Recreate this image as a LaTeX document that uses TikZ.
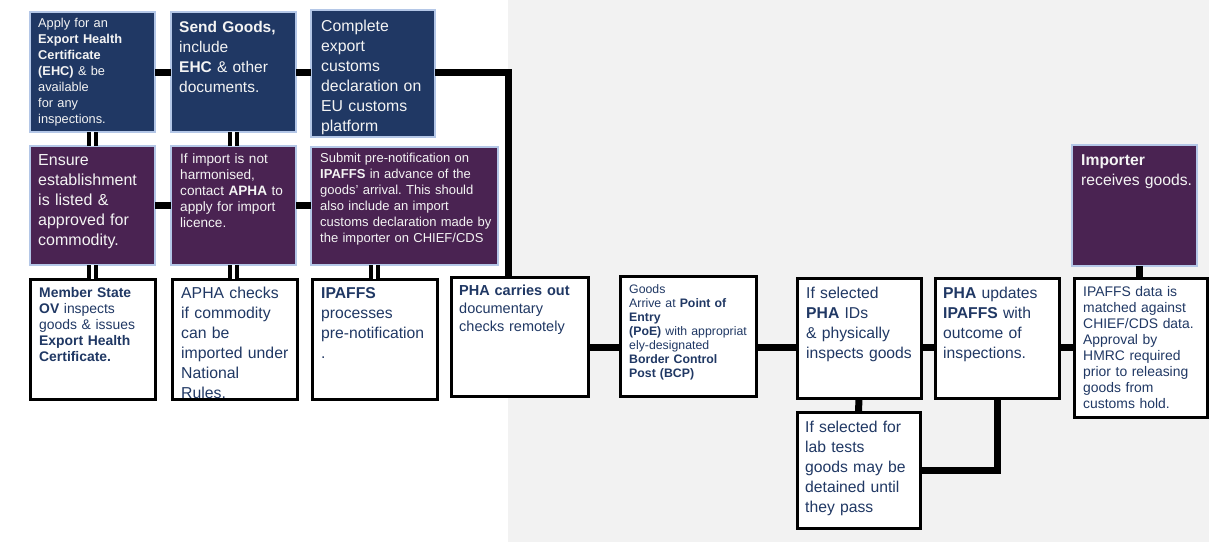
\documentclass[tikz,border=0pt]{standalone}
\usepackage{fontspec}
\setmainfont{Liberation Sans}
\usetikzlibrary{calc}
\frenchspacing
\definecolor{navyfill}{HTML}{203864}
\definecolor{purplefill}{HTML}{4A2352}
\definecolor{lightedge}{HTML}{B4C7E7}
\definecolor{navytext}{HTML}{203864}
\definecolor{bggray}{HTML}{F2F2F2}
\definecolor{lighttxt}{HTML}{F4F4F4}
\begin{document}
\begin{tikzpicture}[x=1pt,y=-1pt,
  boxbase/.style={rectangle, inner sep=0pt, outer sep=0pt, anchor=north west},
  navybox/.style={boxbase, fill=navyfill, draw=lightedge, line width=2.5pt},
  purplebox/.style={boxbase, fill=purplefill, draw=lightedge, line width=2.5pt},
  whitebox/.style={boxbase, fill=white, draw=black, line width=3pt},
  lighttext/.style={anchor=base west, inner sep=0pt, align=left, text=lighttxt},
  darktext/.style={anchor=base west, inner sep=0pt, align=left, text=navytext},
  link/.style={draw=black, line width=7pt},
  dlink/.style={draw=black, line width=3.5pt, double=white, double distance=3.5pt},
]
\useasboundingbox (0,0) rectangle (1209,542);
\fill[white] (0,0) rectangle (508,542);
\fill[bggray] (508,0) rectangle (1209,542);

% boxes
\node[navybox, minimum width=125pt, minimum height=120pt] (b1) at (30,12) {};
\node[navybox, minimum width=125pt, minimum height=120pt] (b2) at (171,12) {};
\node[navybox, minimum width=124pt, minimum height=127pt] (b3) at (311,10) {};
\node[purplebox, minimum width=125pt, minimum height=119pt] (p1) at (30,146) {};
\node[purplebox, minimum width=125pt, minimum height=119pt] (p2) at (171,146) {};
\node[purplebox, minimum width=187pt, minimum height=118pt] (p3) at (311,147) {};
\node[whitebox, minimum width=125pt, minimum height=120pt] (w1) at (30,279) {};
\node[whitebox, minimum width=125pt, minimum height=120pt] (w2) at (172,279) {};
\node[whitebox, minimum width=125pt, minimum height=120pt] (w3) at (312,279) {};
\node[whitebox, minimum width=137pt, minimum height=119pt] (pha) at (451,277) {};
\node[whitebox, minimum width=136pt, minimum height=120pt] (goods) at (620,276) {};
\node[whitebox, minimum width=124pt, minimum height=120pt] (ids) at (797,278) {};
\node[whitebox, minimum width=123pt, minimum height=116pt] (lab) at (797,412) {};
\node[whitebox, minimum width=124pt, minimum height=120pt] (upd) at (935,278) {};
\node[whitebox, minimum width=133pt, minimum height=139pt] (ipd) at (1074,278) {};
\node[purplebox, minimum width=125pt, minimum height=121pt] (imp) at (1072,145) {};

% connectors
\draw[link] (b1.east) -- (b2.west);
\draw[link] (b2.east) -- (b2.east -| b3.west);
\draw[link] (b3.east |- b2.east) -| ([xshift=-11.5pt]pha.north);
\draw[link] (p1.east) -- (p2.west);
\draw[link] (p2.east) -- (p2.east -| p3.west);
\draw[dlink] (b1.south) -- (p1.north);
\draw[dlink] (b2.south) -- (p2.north);
\draw[dlink] (p1.south) -- (w1.north);
\draw[dlink] (p2.south) -- (w2.north -| p2.south);
\draw[dlink] (p3.south -| w3.north) -- (w3.north);
\coordinate (row) at (0,347);
\draw[link] (pha.east |- row) -- (goods.west |- row);
\draw[link] (goods.east |- row) -- (ids.west |- row);
\draw[link] (ids.east |- row) -- (upd.west |- row);
\draw[link] (upd.east |- row) -- (ipd.west |- row);
\draw[link] (ids.south) -- (lab.north);
\draw[link] (lab.east) -| (upd.south);
\draw[link] ([xshift=4.5pt]imp.south) -- ([xshift=4.5pt]imp.south |- ipd.north);

% texts
\node[lighttext, text width=117pt, font=\fontsize{12.8}{16}\selectfont] (b1t) at ($(b1.north west)+(8,15)$)
  {Apply for an\\ \textbf{Export Health}\\ \textbf{Certificate}\\ \textbf{(EHC)} \& be\\ available\\ for any\\ inspections.};
\node[lighttext, text width=117pt, font=\fontsize{15.5}{20}\selectfont] (b2t) at ($(b2.north west)+(8,20)$)
  {\textbf{Send Goods,}\\ include\\ \textbf{EHC} \& other\\ documents.};
\node[lighttext, text width=114pt, font=\fontsize{15.8}{20}\selectfont] (b3t) at ($(b3.north west)+(10,21)$)
  {Complete\\ export\\ customs\\ declaration on\\ EU customs\\ platform};
\node[lighttext, text width=117pt, font=\fontsize{16}{20}\selectfont] (p1t) at ($(p1.north west)+(8,19)$)
  {Ensure\\ establishment\\ is listed \&\\ approved for\\ commodity.};
\node[lighttext, text width=116pt, font=\fontsize{13.6}{16}\selectfont] (p2t) at ($(p2.north west)+(9,17)$)
  {If import is not\\ harmonised,\\ contact \textbf{APHA} to\\ apply for import\\ licence.};
\node[lighttext, text width=178pt, font=\fontsize{13}{16}\selectfont] (p3t) at ($(p3.north west)+(9,15)$)
  {Submit pre-notification on\\ \textbf{IPAFFS} in advance of the\\ goods’ arrival. This should\\ also include an import\\ customs declaration made by\\ the importer on CHIEF/CDS};
\node[darktext, text width=116pt, font=\fontsize{13.9}{16}\selectfont] (w1t) at ($(w1.north west)+(9,18)$)
  {\textbf{Member State}\\ \textbf{OV} inspects\\ goods \& issues\\ \textbf{Export Health}\\ \textbf{Certificate.}};
\node[darktext, text width=116pt, font=\fontsize{15.8}{20}\selectfont] (w2t) at ($(w2.north west)+(9,19)$)
  {APHA checks\\ if commodity\\ can be\\ imported under\\ National\\ Rules.};
\node[darktext, text width=116pt, font=\fontsize{15.7}{20}\selectfont] (w3t) at ($(w3.north west)+(9,19)$)
  {\textbf{IPAFFS}\\ processes\\ pre-notification\\ .};
\node[darktext, text width=129pt, font=\fontsize{14.5}{18}\selectfont] (phat) at ($(pha.north west)+(8,18)$)
  {\textbf{PHA carries out}\\ documentary\\ checks remotely};
\node[darktext, text width=127pt, font=\fontsize{12.3}{14}\selectfont] (goodst) at ($(goods.north west)+(9,17)$)
  {Goods\\ Arrive at \textbf{Point of}\\ \textbf{Entry}\\ \textbf{(PoE)} with appropriat\\ ely-designated\\ \textbf{Border Control}\\ \textbf{Post (BCP)}};
\node[darktext, text width=115pt, font=\fontsize{15.7}{20}\selectfont] (idst) at ($(ids.north west)+(9,20)$)
  {If selected\\ \textbf{PHA} IDs\\ \& physically\\ inspects goods};
\node[darktext, text width=115pt, font=\fontsize{15.7}{20}\selectfont] (labt) at ($(lab.north west)+(8,20)$)
  {If selected for\\ lab tests\\ goods may be\\ detained until\\ they pass};
\node[darktext, text width=116pt, font=\fontsize{15.7}{20}\selectfont] (updt) at ($(upd.north west)+(8,20)$)
  {\textbf{PHA} updates\\ \textbf{IPAFFS} with\\ outcome of\\ inspections.};
\node[darktext, text width=124pt, font=\fontsize{13.9}{16}\selectfont] (ipdt) at ($(ipd.north west)+(9,18)$)
  {IPAFFS data is\\ matched against\\ CHIEF/CDS data.\\ Approval by\\ HMRC required\\ prior to releasing\\ goods from\\ customs hold.};
\node[lighttext, text width=116pt, font=\fontsize{15.7}{20}\selectfont] (impt) at ($(imp.north west)+(9,20)$)
  {\textbf{Importer}\\ receives goods.};
\end{tikzpicture}
\end{document}
